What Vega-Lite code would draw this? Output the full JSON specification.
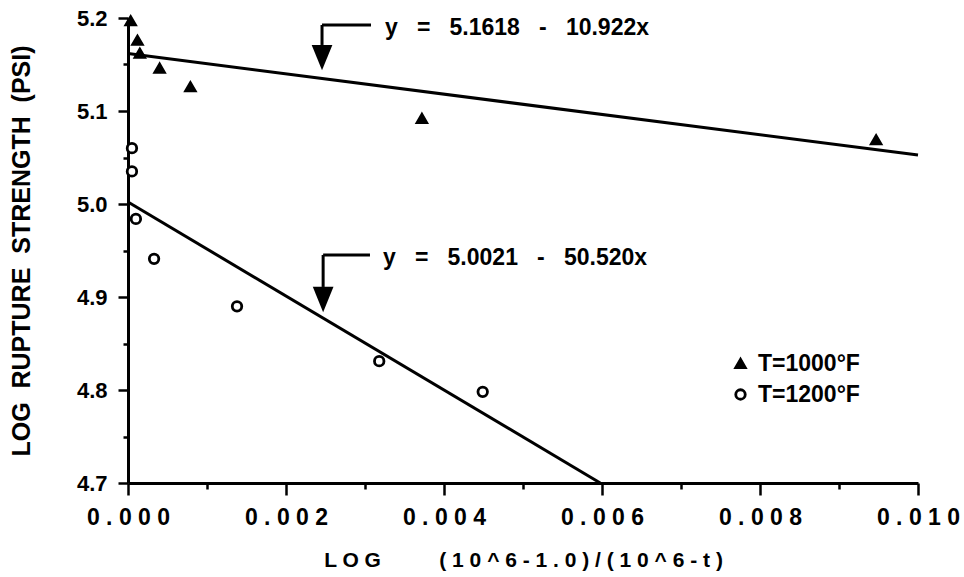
{
  "$schema": "https://vega.github.io/schema/vega-lite/v6.json",
  "description": "Log rupture strength vs log time parameter, T=1000F and T=1200F",
  "width": 790,
  "height": 465,
  "autosize": {"type": "none"},
  "padding": {"left": 128, "top": 18, "right": 46, "bottom": 94},
  "background": "white",
  "config": {
    "font": "Liberation Sans",
    "view": {"stroke": null},
    "legend": {
      "orient": "none",
      "legendX": 601,
      "legendY": 334,
      "padding": 0,
      "labelFont": "Liberation Sans",
      "labelFontSize": 23,
      "labelFontWeight": "bold",
      "labelColor": "black",
      "labelOffset": 6,
      "rowPadding": 7,
      "symbolSize": 90,
      "symbolStrokeWidth": 2.8,
      "symbolStrokeColor": "black"
    }
  },
  "datasets": {
    "pts": [
      {"x": 0.000034, "y": 5.197, "series": "T=1000°F"},
      {"x": 0.00012, "y": 5.176, "series": "T=1000°F"},
      {"x": 0.00015, "y": 5.162, "series": "T=1000°F"},
      {"x": 0.0004, "y": 5.146, "series": "T=1000°F"},
      {"x": 0.00079, "y": 5.126, "series": "T=1000°F"},
      {"x": 0.00372, "y": 5.092, "series": "T=1000°F"},
      {"x": 0.00947, "y": 5.069, "series": "T=1000°F"},
      {"x": 0.00005, "y": 5.06, "series": "T=1200°F"},
      {"x": 0.00005, "y": 5.035, "series": "T=1200°F"},
      {"x": 0.0001, "y": 4.984, "series": "T=1200°F"},
      {"x": 0.00033, "y": 4.941, "series": "T=1200°F"},
      {"x": 0.00138, "y": 4.89, "series": "T=1200°F"},
      {"x": 0.00318, "y": 4.831, "series": "T=1200°F"},
      {"x": 0.00449, "y": 4.798, "series": "T=1200°F"}
    ],
    "segs": [
      {"x": 0, "y": 5.1618, "x2": 0.01, "y2": 5.0526},
      {"x": 0, "y": 5.0021, "x2": 0.005978, "y2": 4.7},
      {"x": 0.002456, "y": 5.1925, "x2": 0.002456, "y2": 5.171},
      {"x": 0.002456, "y": 5.1925, "x2": 0.003076, "y2": 5.1925},
      {"x": 0.00247, "y": 4.9452, "x2": 0.00247, "y2": 4.9108},
      {"x": 0.00247, "y": 4.9452, "x2": 0.003063, "y2": 4.9452}
    ],
    "heads": [
      {"x": 0.002456, "y": 5.1575},
      {"x": 0.00247, "y": 4.8973}
    ],
    "notes": [
      {"x": 0.003253, "y": 5.1897, "label": "y\u00a0\u00a0\u00a0=\u00a0\u00a0\u00a05.1618\u00a0\u00a0\u00a0-\u00a0\u00a0\u00a010.922x"},
      {"x": 0.003228, "y": 4.9414, "label": "y\u00a0\u00a0\u00a0=\u00a0\u00a0\u00a05.0021\u00a0\u00a0\u00a0-\u00a0\u00a0\u00a050.520x"}
    ]
  },
  "encoding": {
    "x": {
      "field": "x",
      "type": "quantitative",
      "scale": {"domain": [0, 0.01], "nice": false, "zero": false},
      "axis": {
        "title": "L O G\u00a0\u00a0\u00a0\u00a0\u00a0\u00a0\u00a0\u00a0\u00a0 ( 1 0 ^ 6 - 1 . 0 ) / ( 1 0 ^ 6 - t )",
        "values": [0, 0.001, 0.002, 0.003, 0.004, 0.005, 0.006, 0.007, 0.008, 0.009, 0.01],
        "labelExpr": "round(datum.value * 1000) % 2 == 0 ? join(split(format(datum.value, '.3f'), ''), ' ') : ''",
        "labelOverlap": false,
        "labelFlush": false,
        "grid": false,
        "domainColor": "black",
        "domainWidth": 3,
        "tickColor": "black",
        "tickWidth": 2.5,
        "tickSize": {"condition": {"test": "round(datum.value * 1000) % 2 != 0", "value": 6}, "value": 12},
        "labelFont": "Liberation Sans",
        "labelFontSize": 23,
        "labelFontWeight": "bold",
        "labelColor": "black",
        "labelPadding": 11,
        "titleFont": "Liberation Sans",
        "titleFontSize": 21,
        "titleFontWeight": "bold",
        "titleColor": "black",
        "titlePadding": 20
      }
    },
    "y": {
      "field": "y",
      "type": "quantitative",
      "scale": {"domain": [4.7, 5.2], "nice": false, "zero": false},
      "axis": {
        "title": "LOG\u00a0\u00a0RUPTURE\u00a0\u00a0STRENGTH\u00a0\u00a0(PSI)",
        "values": [4.7, 4.75, 4.8, 4.85, 4.9, 4.95, 5.0, 5.05, 5.1, 5.15, 5.2],
        "labelExpr": "round(datum.value * 100) % 10 == 0 ? format(datum.value, '.1f') : ''",
        "labelOverlap": false,
        "labelFlush": false,
        "grid": false,
        "domainColor": "black",
        "domainWidth": 3,
        "tickColor": "black",
        "tickWidth": 2.5,
        "tickSize": {"condition": {"test": "round(datum.value * 100) % 10 != 0", "value": 5}, "value": 10},
        "labelFont": "Liberation Sans",
        "labelFontSize": 22,
        "labelFontWeight": "bold",
        "labelColor": "black",
        "labelPadding": 11,
        "titleFont": "Liberation Sans",
        "titleFontSize": 25,
        "titleFontWeight": "bold",
        "titleColor": "black",
        "titlePadding": 42
      }
    }
  },
  "layer": [
    {
      "data": {"name": "segs"},
      "mark": {"type": "rule", "color": "black", "strokeWidth": 3},
      "encoding": {
        "x2": {"field": "x2"},
        "y2": {"field": "y2"}
      }
    },
    {
      "data": {"name": "heads"},
      "mark": {
        "type": "point",
        "shape": "M-0.9,-1.1L0.9,-1.1L0,1.1Z",
        "filled": true,
        "color": "black",
        "opacity": 1,
        "size": 529
      },
      "encoding": {}
    },
    {
      "data": {"name": "pts"},
      "mark": {"type": "point", "filled": true, "strokeWidth": 2.8, "opacity": 1, "size": 90},
      "encoding": {
        "shape": {
          "field": "series",
          "type": "nominal",
          "title": null,
          "scale": {"domain": ["T=1000°F", "T=1200°F"], "range": ["triangle-up", "circle"]}
        },
        "fill": {
          "field": "series",
          "type": "nominal",
          "title": null,
          "scale": {"domain": ["T=1000°F", "T=1200°F"], "range": ["black", "white"]}
        },
        "stroke": {
          "field": "series",
          "type": "nominal",
          "title": null,
          "scale": {"domain": ["T=1000°F", "T=1200°F"], "range": ["black", "#000001"]}
        }
      }
    },
    {
      "data": {"name": "notes"},
      "mark": {
        "type": "text",
        "align": "left",
        "baseline": "middle",
        "font": "Liberation Sans",
        "fontSize": 23,
        "fontWeight": "bold",
        "color": "black"
      },
      "encoding": {
        "text": {"field": "label"}
      }
    }
  ]
}
